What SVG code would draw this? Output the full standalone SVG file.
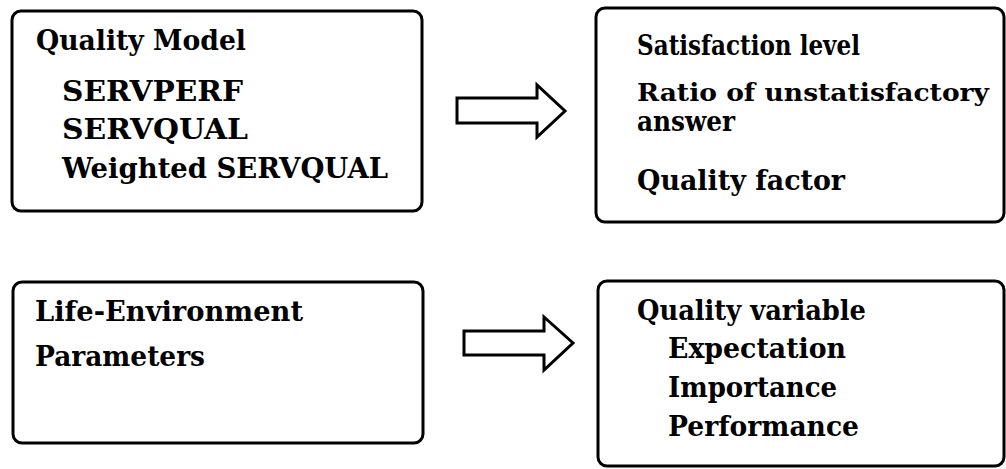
<svg xmlns="http://www.w3.org/2000/svg" width="1006" height="469" viewBox="0 0 1006 469">
<style>
.box{fill:#fff;stroke:#000;stroke-width:3}
.arrow{fill:#fff;stroke:#000;stroke-width:3;stroke-linejoin:miter}
.t{font-family:"DejaVu Serif","Liberation Serif",serif;font-weight:700;font-size:28px;fill:#000}
.s{font-size:25px}
</style>
<rect width="1006" height="469" fill="#fff"/>
<g id="quality-model">
<rect class="box" x="12" y="11" width="410" height="200" rx="9"/>
<text class="t" x="36" y="50" textLength="210" lengthAdjust="spacingAndGlyphs">Quality Model</text>
<text class="t" x="62" y="101" textLength="181" lengthAdjust="spacingAndGlyphs">SERVPERF</text>
<text class="t" x="62" y="139" textLength="186" lengthAdjust="spacingAndGlyphs">SERVQUAL</text>
<text class="t" x="62" y="178" textLength="326" lengthAdjust="spacingAndGlyphs">Weighted SERVQUAL</text>
</g>
<g id="outputs">
<rect class="box" x="596" y="8" width="408" height="214" rx="9"/>
<text class="t" x="637" y="55" textLength="223" lengthAdjust="spacingAndGlyphs">Satisfaction level</text>
<text class="t s" x="637" y="101" textLength="352" lengthAdjust="spacingAndGlyphs">Ratio of unstatisfactory</text>
<text class="t" x="637" y="131" textLength="98" lengthAdjust="spacingAndGlyphs">answer</text>
<text class="t" x="637" y="190" textLength="208" lengthAdjust="spacingAndGlyphs">Quality factor</text>
</g>
<g id="life-environment">
<rect class="box" x="13" y="282" width="410" height="161" rx="9"/>
<text class="t" x="35" y="321" textLength="268" lengthAdjust="spacingAndGlyphs">Life-Environment</text>
<text class="t" x="35" y="366" textLength="170" lengthAdjust="spacingAndGlyphs">Parameters</text>
</g>
<g id="quality-variable">
<rect class="box" x="598" y="281" width="406" height="185" rx="9"/>
<text class="t" x="637" y="320" textLength="229" lengthAdjust="spacingAndGlyphs">Quality variable</text>
<text class="t" x="668" y="358" textLength="178" lengthAdjust="spacingAndGlyphs">Expectation</text>
<text class="t" x="668" y="397" textLength="169" lengthAdjust="spacingAndGlyphs">Importance</text>
<text class="t" x="668" y="436" textLength="191" lengthAdjust="spacingAndGlyphs">Performance</text>
</g>
<g id="connectors">
<polygon class="arrow" points="457,98 537,98 537,85 565,111 537,137 537,123 457,123"/>
<polygon class="arrow" points="464,331 544,331 544,317 573,343 544,370 544,355 464,355"/>
</g>
</svg>
